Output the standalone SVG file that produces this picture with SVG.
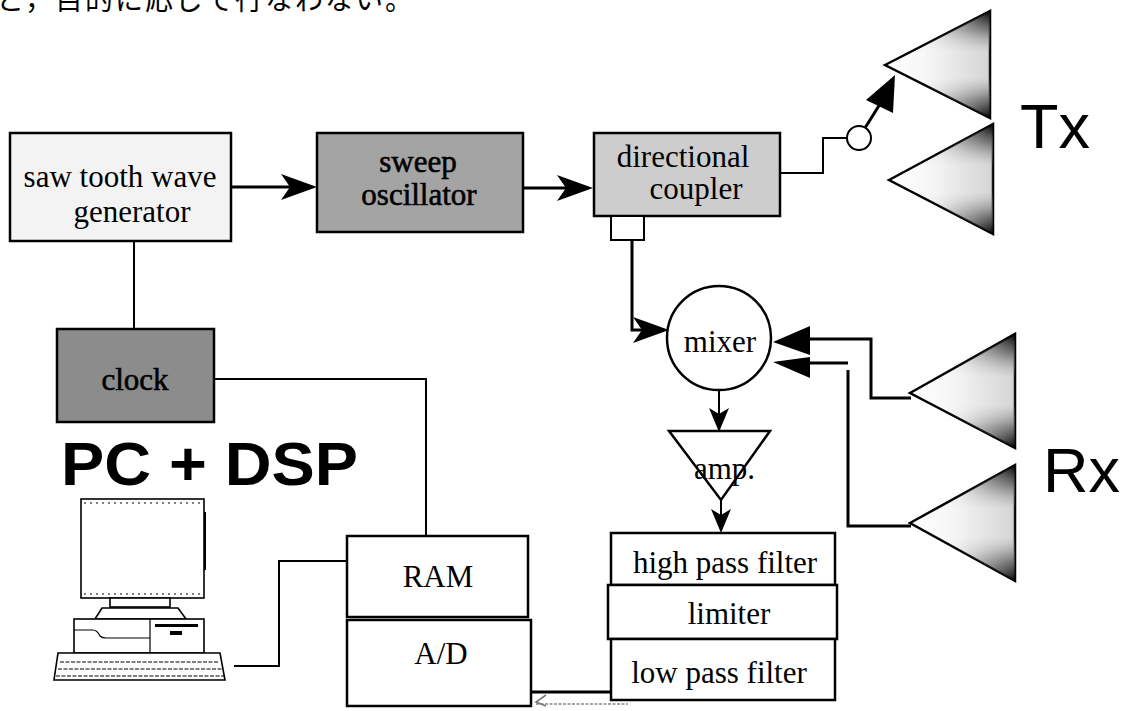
<svg xmlns="http://www.w3.org/2000/svg" width="1126" height="711" viewBox="0 0 1126 711">
  <style>
    .box { stroke: #000; stroke-width: 2.5; }
    .lbl { font-family: "Liberation Serif", "Times New Roman", serif; font-size: 31px; fill: #000; }
    .big { font-family: "Liberation Sans", Arial, sans-serif; font-size: 63px; fill: #000; }
    .wire { fill: none; stroke: #000; stroke-width: 2; }
    .bus { fill: none; stroke: #000; stroke-width: 3; }
    .horn { stroke: #000; stroke-width: 2.5; stroke-linejoin: miter; }
    .pc { fill: #fff; stroke: #000; stroke-width: 1.6; }
    .pcl { fill: none; stroke: #000; stroke-width: 1.2; }
  </style>
  <defs>
    <marker id="stealth" viewBox="0 0 36 26" refX="30" refY="13" markerWidth="36" markerHeight="26" markerUnits="userSpaceOnUse" orient="auto">
      <path d="M0,0 L36,13 L0,26 L9,13 z" fill="#000"/>
    </marker>
    <marker id="stealthS" viewBox="0 0 24 20" refX="20" refY="10" markerWidth="24" markerHeight="20" markerUnits="userSpaceOnUse" orient="auto">
      <path d="M0,0 L24,10 L0,20 L6,10 z" fill="#000"/>
    </marker>
    <!-- horn antenna shading: pale body, dark flare corners -->
    <linearGradient id="hornBase" x1="0" y1="0" x2="1" y2="0">
      <stop offset="0" stop-color="#ffffff"/>
      <stop offset="0.5" stop-color="#f4f4f4"/>
      <stop offset="1" stop-color="#dcdcdc"/>
    </linearGradient>
    <linearGradient id="hornEdge" x1="0" y1="0" x2="0" y2="1">
      <stop offset="0" stop-color="#000" stop-opacity="1"/>
      <stop offset="0.18" stop-color="#555" stop-opacity="0.75"/>
      <stop offset="0.38" stop-color="#aaa" stop-opacity="0.15"/>
      <stop offset="0.62" stop-color="#aaa" stop-opacity="0.15"/>
      <stop offset="0.82" stop-color="#555" stop-opacity="0.75"/>
      <stop offset="1" stop-color="#000" stop-opacity="1"/>
    </linearGradient>
    <linearGradient id="fadeRight" x1="0" y1="0" x2="1" y2="0">
      <stop offset="0.35" stop-color="#000"/>
      <stop offset="1" stop-color="#fff"/>
    </linearGradient>
    <mask id="hornMask" maskContentUnits="objectBoundingBox">
      <rect x="0" y="0" width="1" height="1" fill="url(#fadeRight)"/>
    </mask>
  </defs>

  <!-- running text of the page above the figure -->
  <text x="-4" y="10" font-family="'Noto Sans CJK JP', sans-serif" font-size="28" letter-spacing="2" fill="#000">と，目的に応じて行なわない。</text>

  <!-- connectors -->
  <g id="connectors">
    <path class="bus" d="M231,187 H311" marker-end="url(#stealth)"/>
    <path class="bus" d="M523,188 H587" marker-end="url(#stealth)"/>
    <path class="bus" d="M632,240 V330 H663" marker-end="url(#stealth)"/>
    <path class="wire" d="M780,173 H823 V138 H847"/>
    <circle cx="859" cy="138" r="12" fill="#fff" stroke="#000" stroke-width="2"/>
    <path class="bus" d="M865,128 L880,104"/>
    <polygon points="895,75 866,100 893,113" fill="#000"/>
    <path class="bus" d="M806,339 H871 V398 H911"/>
    <path class="bus" d="M806,363 H848 M848,370 V526 H911"/>
    <polygon points="773,342 810,326 810,355" fill="#000"/>
    <polygon points="773,362 810,357 810,378" fill="#000"/>
    <path class="wire" d="M719,384 V428" marker-end="url(#stealthS)"/>
    <path class="wire" d="M721,500 V529" marker-end="url(#stealthS)"/>
    <path class="wire" d="M134,241 V329"/>
    <path class="wire" d="M214,379 H426 V536"/>
    <path class="wire" d="M234,666 H279 V561 H347"/>
    <path class="bus" d="M611,692 H531" stroke-width="2.5"/>
    <path d="M536,704 H628" fill="none" stroke="#888" stroke-width="1.5" stroke-dasharray="3 1.5"/>
    <path d="M546,695 L536,702 L546,706" fill="none" stroke="#777" stroke-width="1.6"/>
  </g>

  <g id="sawtooth">
    <rect class="box" x="10" y="133" width="221" height="108" fill="#f3f3f3"/>
    <text class="lbl" x="120" y="187" text-anchor="middle">saw tooth wave</text>
    <text class="lbl" x="132" y="222" text-anchor="middle">generator</text>
  </g>

  <g id="sweep">
    <rect class="box" x="317" y="133" width="206" height="99" fill="#a4a4a4"/>
    <text class="lbl" x="418" y="172" text-anchor="middle" stroke="#000" stroke-width="0.6">sweep</text>
    <text class="lbl" x="419" y="205" text-anchor="middle" stroke="#000" stroke-width="0.6">oscillator</text>
  </g>

  <g id="coupler">
    <rect class="box" x="594" y="133" width="186" height="83" fill="#cdcdcd"/>
    <rect x="611" y="216" width="33" height="24" fill="#fff" stroke="#000" stroke-width="2"/>
    <text class="lbl" x="683" y="167" text-anchor="middle" font-size="30">directional</text>
    <text class="lbl" x="696" y="199" text-anchor="middle" font-size="30">coupler</text>
  </g>

  <g id="tx">
    <polygon class="horn" points="885,65 990,11 990,118" fill="url(#hornBase)"/>
    <polygon points="885,65 990,11 990,118" fill="url(#hornEdge)" mask="url(#hornMask)"/>
    <polygon class="horn" points="889,180 993,124 993,234" fill="url(#hornBase)"/>
    <polygon points="889,180 993,124 993,234" fill="url(#hornEdge)" mask="url(#hornMask)"/>
    <text class="big" x="1020" y="148">Tx</text>
  </g>

  <g id="mixer">
    <circle cx="719" cy="338" r="52" fill="#fff" stroke="#000" stroke-width="2.5"/>
    <text class="lbl" x="720" y="352" text-anchor="middle">mixer</text>
  </g>

  <g id="rx">
    <polygon class="horn" points="910,393 1015,334 1015,448" fill="url(#hornBase)"/>
    <polygon points="910,393 1015,334 1015,448" fill="url(#hornEdge)" mask="url(#hornMask)"/>
    <polygon class="horn" points="910,523 1015,465 1015,581" fill="url(#hornBase)"/>
    <polygon points="910,523 1015,465 1015,581" fill="url(#hornEdge)" mask="url(#hornMask)"/>
    <text class="big" x="1043" y="492">Rx</text>
  </g>

  <g id="amp">
    <polygon points="669,431 770,431 721,500" fill="#fff" stroke="#000" stroke-width="2.5" stroke-linejoin="miter"/>
    <text class="lbl" x="694" y="479">amp.</text>
  </g>

  <g id="highpass">
    <rect class="box" x="611" y="533" width="224" height="52" fill="#fff"/>
    <text class="lbl" x="725" y="573" text-anchor="middle">high pass filter</text>
  </g>
  <g id="limiter">
    <rect class="box" x="608" y="585" width="229" height="54" fill="#fff"/>
    <text class="lbl" x="729" y="624" text-anchor="middle">limiter</text>
  </g>
  <g id="lowpass">
    <rect class="box" x="611" y="639" width="224" height="61" fill="#fff"/>
    <text class="lbl" x="719" y="683" text-anchor="middle">low pass filter</text>
  </g>

  <g id="clock">
    <rect class="box" x="57" y="329" width="157" height="93" fill="#8c8c8c"/>
    <text class="lbl" x="135" y="390" text-anchor="middle" stroke="#000" stroke-width="0.6">clock</text>
  </g>

  <g id="pcdsp">
    <text x="61" y="485" font-family="'Liberation Sans', Arial, sans-serif" font-size="62" font-weight="bold" textLength="297" lengthAdjust="spacingAndGlyphs">PC + DSP</text>
    <!-- monitor -->
    <rect class="pc" x="81" y="499" width="123" height="99"/>
    <path class="pcl" d="M84,503 H200 M84,594 H200" stroke-dasharray="2 4"/>
    <line x1="205" y1="512" x2="205" y2="570" stroke="#000" stroke-width="2"/>
    <!-- stand -->
    <rect class="pc" x="110" y="598" width="60" height="9"/>
    <path class="pc" d="M95,619 L102,608 H178 L186,619 z"/>
    <!-- system unit -->
    <rect class="pc" x="74" y="619" width="130" height="34"/>
    <path class="pcl" d="M74,630 H93 Q97,630 100,636 Q102,638 106,638 H150 M150,619 V653"/>
    <rect x="155" y="624" width="43" height="3" fill="#000"/>
    <rect x="170" y="631" width="12" height="4" fill="#000"/>
    <!-- keyboard -->
    <path class="pc" d="M58,653 H220 L225,680 H54 z"/>
    <path class="pcl" d="M60,662 H218 M58,669 H222 M56,676 H224" stroke-dasharray="4 1.5"/>
  </g>

  <g id="ram">
    <rect class="box" x="347" y="536" width="181" height="81" fill="#fff"/>
    <text class="lbl" x="438" y="587" text-anchor="middle">RAM</text>
  </g>
  <g id="ad">
    <rect class="box" x="347" y="620" width="184" height="86" fill="#fff"/>
    <text class="lbl" x="441" y="664" text-anchor="middle">A/D</text>
  </g>
</svg>
